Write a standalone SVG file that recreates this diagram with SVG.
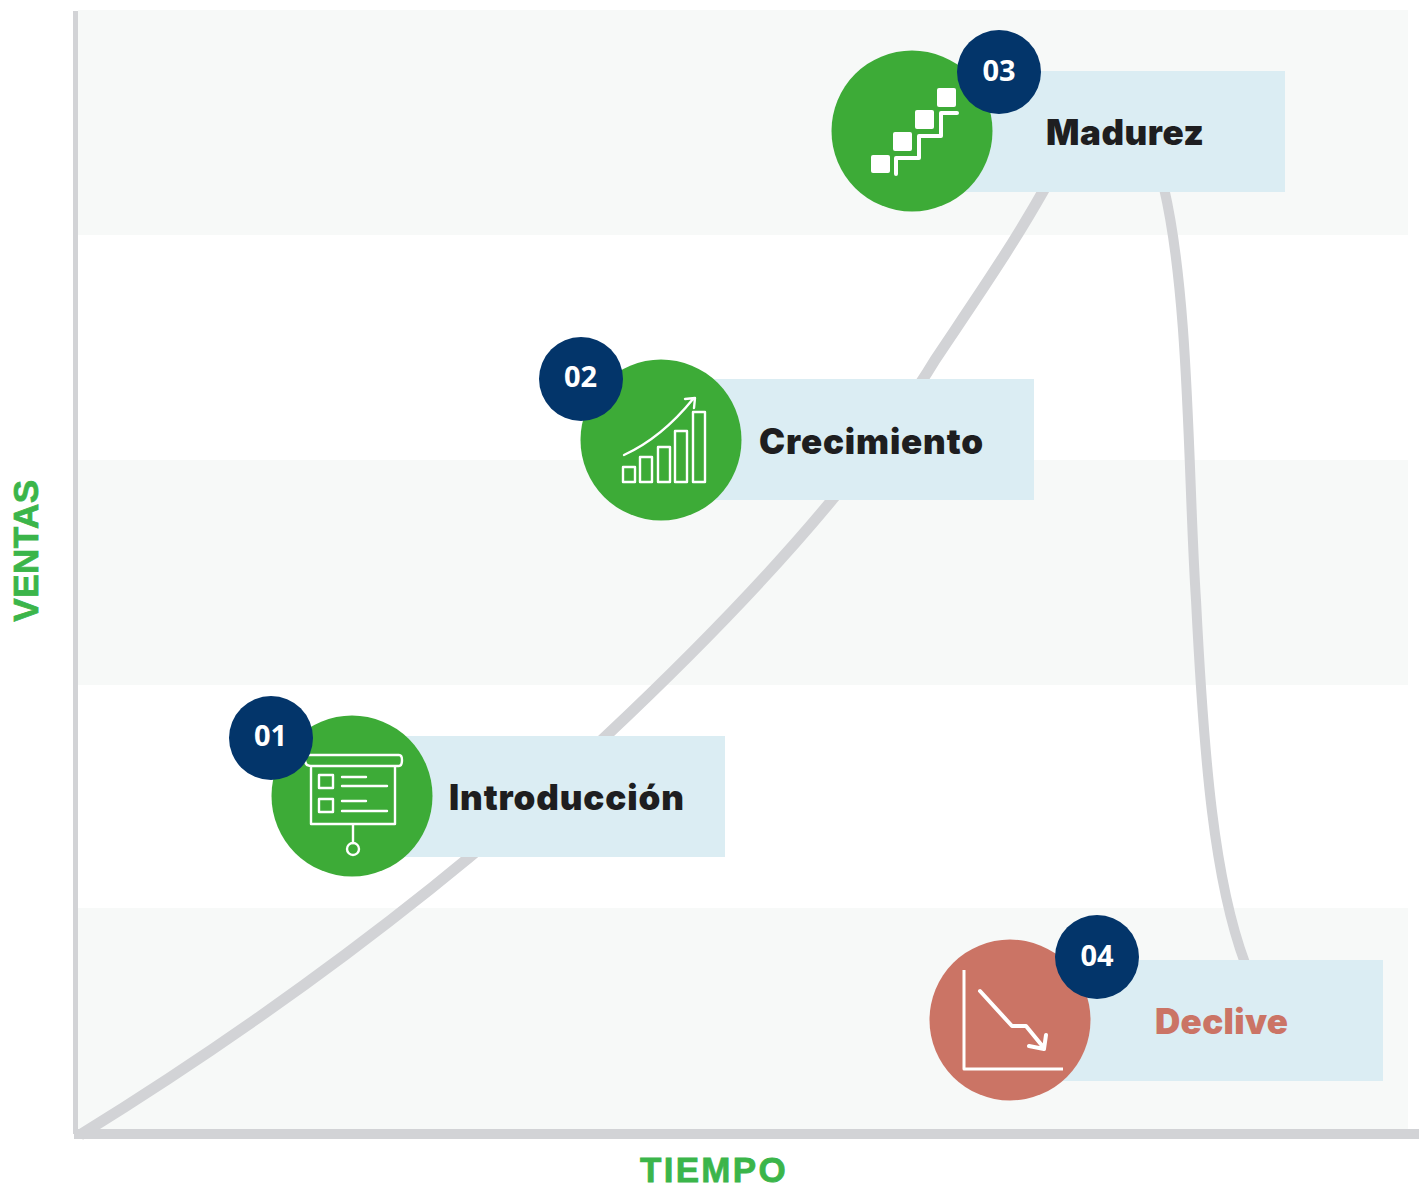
<svg xmlns="http://www.w3.org/2000/svg" width="1427" height="1184" viewBox="0 0 1427 1184">
<style>
.band{fill:#f7f9f8}
.box{fill:#dbedf3}
.green{fill:#3dab37}
.red{fill:#cb7465}
.navy{fill:#03356a}
.num{font-family:"Open Sans",sans-serif;font-weight:700;font-size:29px;fill:#fff;text-anchor:middle}
.lab{font-family:Inter,sans-serif;font-weight:900;font-size:35px;fill:#1e1e20}
.axis{font-family:"Liberation Sans",sans-serif;font-weight:700;font-size:35px;fill:#3bb54a;stroke:#3bb54a;stroke-width:.8;text-anchor:middle}
.ic{fill:none;stroke:#fff;stroke-width:2.4;stroke-linecap:round;stroke-linejoin:round}
.ict{fill:none;stroke:#fff;stroke-width:4;stroke-linecap:round;stroke-linejoin:round}
.sq{fill:#fff}
.cv{fill:none;stroke:#d2d3d6;stroke-width:10}
</style>
<rect width="1427" height="1184" fill="#fff"/>
<g id="bands">
<rect class="band" x="78" y="10" width="1330" height="225"/>
<rect class="band" x="78" y="460" width="1330" height="225"/>
<rect class="band" x="78" y="908" width="1330" height="222"/>
</g>
<g id="connectors">
<path class="cv" style="stroke-width:11" d="M80 1135C250 1030 445 890 605 737C690 657 770 575 832 500C880 445 920 385 935 360C975 300 1010 250 1045 188"/>
<path class="cv" d="M1164 188C1190 300 1188 480 1196 600C1204 760 1214 880 1245 963"/>
<path fill="none" stroke="#d2d3d6" stroke-width="5" d="M75.500 11V1134"/>
<path fill="none" stroke="#d2d3d6" stroke-width="10" d="M74 1134H1419"/>
</g>
<g id="node-01">
<rect class="box" x="352" y="736" width="373" height="121"/>
<circle class="green" cx="352" cy="796" r="80.500"/>
<path class="ic" d="M311 767V824H395V767M305 755H399Q402 755 402 760Q402 766 399 766H311Q305 766 305 760M353 824V843"/>
<circle class="ic" cx="353" cy="849" r="6"/>
<rect class="ic" x="319" y="775" width="14" height="13"/>
<rect class="ic" x="319" y="799" width="14" height="13"/>
<path class="ic" d="M342 777H366M342 786H387M342 801H366M342 811H387"/>
<circle class="navy" cx="271" cy="738" r="42"/>
<text class="num" x="270.500" y="746">01</text>
<text class="lab" x="449" y="810" textLength="235">Introducción</text>
</g>
<g id="node-02">
<rect class="box" x="661" y="379" width="373" height="121"/>
<circle class="green" cx="661" cy="440" r="80.500"/>
<rect class="ic" x="623" y="467" width="12" height="15"/>
<rect class="ic" x="640" y="457" width="12" height="25"/>
<rect class="ic" x="658" y="447" width="12" height="35"/>
<rect class="ic" x="675" y="431" width="12" height="51"/>
<rect class="ic" x="693" y="412" width="12" height="70"/>
<path class="ic" d="M624 455C650 443 672 425 693 399M685 399L695 398L694 408"/>
<circle class="navy" cx="581" cy="379" r="42"/>
<text class="num" x="580.500" y="387">02</text>
<text class="lab" x="759" y="454" textLength="224">Crecimiento</text>
</g>
<g id="node-03">
<rect class="box" x="912" y="71" width="373" height="121"/>
<circle class="green" cx="912" cy="131" r="80.500"/>
<rect class="sq" x="871" y="155" width="19" height="18" rx="2"/>
<rect class="sq" x="893" y="132" width="19" height="19" rx="2"/>
<rect class="sq" x="915" y="110" width="19" height="19" rx="2"/>
<rect class="sq" x="937" y="88" width="19" height="19" rx="2"/>
<path class="ict" d="M896 174V158H919V136H941V113H957"/>
<circle class="navy" cx="999" cy="72" r="42"/>
<text class="num" x="999" y="81">03</text>
<text class="lab" x="1046" y="145" textLength="158">Madurez</text>
</g>
<g id="node-04">
<rect class="box" x="1010" y="960" width="373" height="121"/>
<circle class="red" cx="1010" cy="1020" r="80.500"/>
<path class="ic" style="stroke-width:3;stroke-linecap:butt" d="M964 970V1069H1063"/>
<path class="ict" d="M980 991L1012 1026H1026L1044 1048M1029 1046L1044 1049L1046 1035"/>
<circle class="navy" cx="1097" cy="957" r="42"/>
<text class="num" x="1097" y="966">04</text>
<text class="lab" x="1155" y="1034" textLength="133" style="fill:#cb7465">Declive</text>
</g>
<g id="axis-labels">
<text class="axis" x="714" y="1182" style="letter-spacing:2.300px">TIEMPO</text>
<text class="axis" transform="translate(38 550.500) rotate(-90)" style="letter-spacing:.5px">VENTAS</text>
</g>
</svg>
